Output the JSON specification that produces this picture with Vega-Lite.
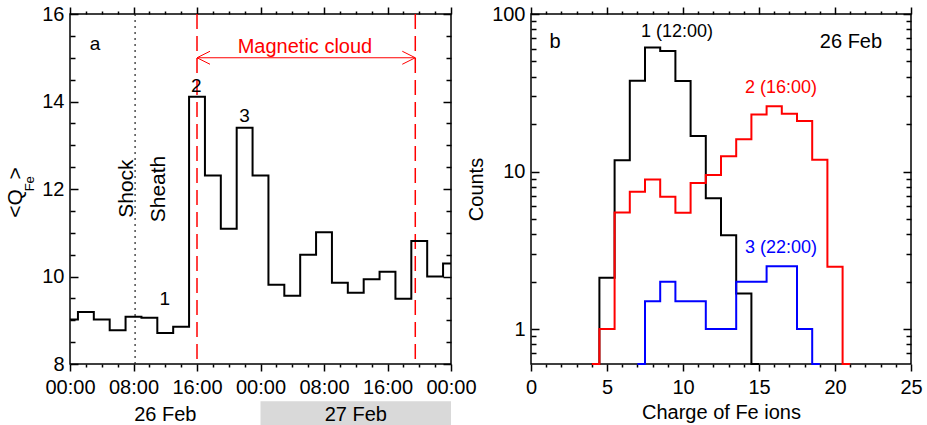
{
  "$schema": "https://vega.github.io/schema/vega-lite/v6.json",
  "padding": {"left": 4, "top": 3, "right": 5, "bottom": 0},
  "config": {
    "font": "Liberation Sans",
    "view": {"stroke": "black", "strokeWidth": 1.5},
    "axis": {"domain": false, "grid": false, "labelFont": "Liberation Sans", "labelFontSize": 20, "labelColor": "black", "tickColor": "black", "tickWidth": 1.5, "labelFlush": false, "labelOverlap": false, "titleFont": "Liberation Sans", "titleFontSize": 20, "titleFontWeight": "normal", "titleColor": "black"},
    "text": {"font": "Liberation Sans", "fontSize": 20}
  },
  "datasets": {
    "qfe": [
      {"hour": 0, "q": 9.02}, {"hour": 2, "q": 9.19}, {"hour": 4, "q": 9.02}, {"hour": 6, "q": 8.77},
      {"hour": 8, "q": 9.08}, {"hour": 10, "q": 9.06}, {"hour": 12, "q": 8.71}, {"hour": 14, "q": 8.85},
      {"hour": 16, "q": 14.11}, {"hour": 18, "q": 12.31}, {"hour": 20, "q": 11.09}, {"hour": 22, "q": 13.40},
      {"hour": 24, "q": 12.31}, {"hour": 26, "q": 9.81}, {"hour": 28, "q": 9.56}, {"hour": 30, "q": 10.50},
      {"hour": 32, "q": 11.01}, {"hour": 34, "q": 9.86}, {"hour": 36, "q": 9.63}, {"hour": 38, "q": 9.94},
      {"hour": 40, "q": 10.11}, {"hour": 42, "q": 9.49}, {"hour": 44, "q": 10.81}, {"hour": 46, "q": 10.00},
      {"hour": 48, "q": 10.30}
    ],
    "hist": [
      {"series": "1 (12:00)", "charge": 4, "count": 0},
      {"series": "1 (12:00)", "charge": 5, "count": 2.12},
      {"series": "1 (12:00)", "charge": 6, "count": 11.8},
      {"series": "1 (12:00)", "charge": 7, "count": 37.7},
      {"series": "1 (12:00)", "charge": 8, "count": 61.3},
      {"series": "1 (12:00)", "charge": 9, "count": 58.3},
      {"series": "1 (12:00)", "charge": 10, "count": 37.5},
      {"series": "1 (12:00)", "charge": 11, "count": 16.8},
      {"series": "1 (12:00)", "charge": 12, "count": 6.76},
      {"series": "1 (12:00)", "charge": 13, "count": 3.94},
      {"series": "1 (12:00)", "charge": 14, "count": 1.68},
      {"series": "1 (12:00)", "charge": 15, "count": 0},
      {"series": "2 (16:00)", "charge": 4, "count": 0},
      {"series": "2 (16:00)", "charge": 5, "count": 1.0},
      {"series": "2 (16:00)", "charge": 6, "count": 5.5},
      {"series": "2 (16:00)", "charge": 7, "count": 7.45},
      {"series": "2 (16:00)", "charge": 8, "count": 8.89},
      {"series": "2 (16:00)", "charge": 9, "count": 6.92},
      {"series": "2 (16:00)", "charge": 10, "count": 5.47},
      {"series": "2 (16:00)", "charge": 11, "count": 8.47},
      {"series": "2 (16:00)", "charge": 12, "count": 9.52},
      {"series": "2 (16:00)", "charge": 13, "count": 12.5},
      {"series": "2 (16:00)", "charge": 14, "count": 16.0},
      {"series": "2 (16:00)", "charge": 15, "count": 23.0},
      {"series": "2 (16:00)", "charge": 16, "count": 26.0},
      {"series": "2 (16:00)", "charge": 17, "count": 23.3},
      {"series": "2 (16:00)", "charge": 18, "count": 20.9},
      {"series": "2 (16:00)", "charge": 19, "count": 11.9},
      {"series": "2 (16:00)", "charge": 20, "count": 2.49},
      {"series": "2 (16:00)", "charge": 21, "count": 0},
      {"series": "3 (22:00)", "charge": 7, "count": 0},
      {"series": "3 (22:00)", "charge": 8, "count": 1.5},
      {"series": "3 (22:00)", "charge": 9, "count": 2.0},
      {"series": "3 (22:00)", "charge": 10, "count": 1.5},
      {"series": "3 (22:00)", "charge": 11, "count": 1.5},
      {"series": "3 (22:00)", "charge": 12, "count": 1.0},
      {"series": "3 (22:00)", "charge": 13, "count": 1.0},
      {"series": "3 (22:00)", "charge": 14, "count": 2.0},
      {"series": "3 (22:00)", "charge": 15, "count": 2.0},
      {"series": "3 (22:00)", "charge": 16, "count": 2.5},
      {"series": "3 (22:00)", "charge": 17, "count": 2.5},
      {"series": "3 (22:00)", "charge": 18, "count": 1.0},
      {"series": "3 (22:00)", "charge": 19, "count": 0}
    ],
    "serieslabels": [
      {"series": "1 (12:00)", "charge": 9.6, "count": 76.8},
      {"series": "2 (16:00)", "charge": 16.45, "count": 33.8},
      {"series": "3 (22:00)", "charge": 16.45, "count": 3.28}
    ]
  },
  "bounds": "flush",
  "spacing": 80,
  "hconcat": [
    {
      "width": 381,
      "height": 350,
      "layer": [
        {
          "data": {"values": [{"day": "27 Feb", "start": 24, "end": 48}]},
          "mark": {"type": "rect", "color": "#d9d9d9"},
          "encoding": {
            "x": {"field": "start", "type": "quantitative", "axis": null},
            "x2": {"field": "end"},
            "y": {"datum": 7.15, "type": "quantitative", "axis": null},
            "y2": {"datum": 6.55}
          }
        },
        {
          "data": {"values": [{"day": "26 Feb", "mid": 12}, {"day": "27 Feb", "mid": 36}]},
          "mark": {"type": "text", "baseline": "middle", "align": "center", "fontSize": 20, "color": "black"},
          "encoding": {
            "x": {"field": "mid", "type": "quantitative", "axis": null},
            "y": {"datum": 6.83, "type": "quantitative", "axis": null},
            "text": {"field": "day"}
          }
        },
        {
          "data": {"values": [{"event": "Shock", "hour": 8.2}]},
          "mark": {"type": "rule", "color": "#222222", "strokeWidth": 1.2, "strokeDash": [2, 4]},
          "encoding": {"x": {"field": "hour", "type": "quantitative", "axis": null}}
        },
        {
          "data": {"values": [{"event": "MC start", "hour": 16}, {"event": "MC end", "hour": 43.5}]},
          "mark": {"type": "rule", "color": "#ff0000", "strokeWidth": 1.5, "strokeDash": [15, 7]},
          "encoding": {"x": {"field": "hour", "type": "quantitative", "axis": null}}
        },
        {
          "data": {"values": [{"start": 16, "end": 43.5, "level": 15.0}]},
          "mark": {"type": "rule", "color": "#ff0000", "strokeWidth": 1},
          "encoding": {
            "x": {"field": "start", "type": "quantitative", "axis": null},
            "x2": {"field": "end"},
            "y": {"field": "level", "type": "quantitative", "axis": null}
          }
        },
        {
          "data": {"values": [{"dir": "left", "hour": 16, "level": 15.0}, {"dir": "right", "hour": 43.5, "level": 15.0}]},
          "mark": {"type": "point", "filled": false, "stroke": "#ff0000", "strokeWidth": 1, "size": 676, "opacity": 1},
          "encoding": {
            "x": {"field": "hour", "type": "quantitative", "axis": null},
            "y": {"field": "level", "type": "quantitative", "axis": null},
            "shape": {"field": "dir", "type": "nominal", "scale": {"domain": ["left", "right"], "range": ["M1,-0.5L0,0L1,0.5", "M-1,-0.5L0,0L-1,0.5"]}, "legend": null}
          }
        },
        {
          "data": {"name": "qfe"},
          "mark": {"type": "line", "interpolate": "step", "color": "black", "strokeWidth": 2},
          "encoding": {
            "x": {
              "field": "hour", "type": "quantitative",
              "scale": {"domain": [0, 48], "nice": false, "zero": false},
              "axis": {
                "orient": "bottom", "title": null,
                "values": [0, 2, 4, 6, 8, 10, 12, 14, 16, 18, 20, 22, 24, 26, 28, 30, 32, 34, 36, 38, 40, 42, 44, 46, 48],
                "labelExpr": "datum.value % 8 === 0 ? ((datum.value % 24) < 10 ? '0' : '') + (datum.value % 24) + ':00' : ''",
                "tickSize": {"condition": {"test": "datum.value % 8 === 0", "value": 7}, "value": 3},
                "labelPadding": 6
              }
            },
            "y": {
              "field": "q", "type": "quantitative",
              "scale": {"domain": [8, 16], "nice": false, "zero": false},
              "axis": {
                "orient": "left", "title": null,
                "values": [8, 8.5, 9, 9.5, 10, 10.5, 11, 11.5, 12, 12.5, 13, 13.5, 14, 14.5, 15, 15.5, 16],
                "labelExpr": "datum.value % 2 === 0 ? '' + datum.value : ''",
                "tickSize": {"condition": {"test": "datum.value % 2 === 0", "value": -8}, "value": -5},
                "labelPadding": 14
              }
            }
          }
        },
        {
          "data": {"values": [
            {"label": "a", "hour": 3.15, "q": 15.31},
            {"label": "1", "hour": 11.93, "q": 9.48},
            {"label": "2", "hour": 15.9, "q": 14.36},
            {"label": "3", "hour": 22.0, "q": 13.66}
          ]},
          "mark": {"type": "text", "baseline": "middle", "align": "center", "fontSize": 19, "color": "black"},
          "encoding": {
            "x": {
              "field": "hour", "type": "quantitative",
              "axis": {
                "orient": "top", "title": null, "labels": false,
                "values": [0, 2, 4, 6, 8, 10, 12, 14, 16, 18, 20, 22, 24, 26, 28, 30, 32, 34, 36, 38, 40, 42, 44, 46, 48],
                "tickSize": {"condition": {"test": "datum.value % 8 === 0", "value": 7}, "value": 3}
              }
            },
            "y": {
              "field": "q", "type": "quantitative",
              "axis": {
                "orient": "right", "title": null, "labels": false,
                "values": [8, 8.5, 9, 9.5, 10, 10.5, 11, 11.5, 12, 12.5, 13, 13.5, 14, 14.5, 15, 15.5, 16],
                "tickSize": {"condition": {"test": "datum.value % 2 === 0", "value": -8}, "value": -5}
              }
            },
            "text": {"field": "label"}
          }
        },
        {
          "data": {"values": [{"label": "Magnetic cloud", "hour": 29.6, "q": 15.12}]},
          "mark": {"type": "text", "baseline": "alphabetic", "align": "center", "fontSize": 20, "color": "#ff0000"},
          "encoding": {
            "x": {"field": "hour", "type": "quantitative", "axis": null},
            "y": {"field": "q", "type": "quantitative", "axis": null},
            "text": {"field": "label"}
          }
        },
        {
          "data": {"values": [
            {"label": "Shock", "hour": 7.14, "q": 12.01},
            {"label": "Sheath", "hour": 11.15, "q": 12.0}
          ]},
          "mark": {"type": "text", "baseline": "middle", "align": "center", "fontSize": 21, "angle": 270, "color": "black"},
          "encoding": {
            "x": {"field": "hour", "type": "quantitative", "axis": null},
            "y": {"field": "q", "type": "quantitative", "axis": null},
            "text": {"field": "label"}
          }
        },
        {
          "data": {"values": [
            {"part": "<Q", "hour": -6.8, "q": 11.67},
            {"part": ">", "hour": -6.8, "q": 12.36}
          ]},
          "mark": {"type": "text", "baseline": "middle", "align": "center", "fontSize": 21, "angle": 270, "color": "black"},
          "encoding": {
            "x": {"field": "hour", "type": "quantitative", "axis": null},
            "y": {"field": "q", "type": "quantitative", "axis": null},
            "text": {"field": "part"}
          }
        },
        {
          "data": {"values": [{"part": "Fe", "hour": -5.04, "q": 12.12}]},
          "mark": {"type": "text", "baseline": "middle", "align": "center", "fontSize": 13, "angle": 270, "color": "black"},
          "encoding": {
            "x": {"field": "hour", "type": "quantitative", "axis": null},
            "y": {"field": "q", "type": "quantitative", "axis": null},
            "text": {"field": "part"}
          }
        }
      ]
    },
    {
      "width": 380,
      "height": 350,
      "layer": [
        {
          "data": {"name": "hist"},
          "mark": {"type": "line", "interpolate": "step", "strokeWidth": 2},
          "encoding": {
            "x": {
              "field": "charge", "type": "quantitative",
              "scale": {"domain": [0, 25], "nice": false, "zero": false},
              "axis": {
                "orient": "bottom", "title": "Charge of Fe ions", "titlePadding": 5,
                "values": [0, 1, 2, 3, 4, 5, 6, 7, 8, 9, 10, 11, 12, 13, 14, 15, 16, 17, 18, 19, 20, 21, 22, 23, 24, 25],
                "labelExpr": "datum.value % 5 === 0 ? datum.label : ''",
                "tickSize": {"condition": {"test": "datum.value % 5 === 0", "value": 7}, "value": 3},
                "labelPadding": 6
              }
            },
            "y": {
              "field": "count", "type": "quantitative",
              "scale": {"type": "log", "domain": [0.6, 100], "nice": false, "clamp": true},
              "axis": {
                "orient": "left", "title": "Counts", "titlePadding": 5,
                "values": [0.7, 0.8, 0.9, 1, 2, 3, 4, 5, 6, 7, 8, 9, 10, 20, 30, 40, 50, 60, 70, 80, 90, 100],
                "labelExpr": "datum.value == 1 ? '1' : datum.value == 10 ? '10' : datum.value == 100 ? '100' : ''",
                "tickSize": {"condition": {"test": "datum.value == 1 || datum.value == 10 || datum.value == 100", "value": -8}, "value": -5},
                "labelPadding": 14
              }
            },
            "color": {"field": "series", "type": "nominal", "scale": {"domain": ["1 (12:00)", "2 (16:00)", "3 (22:00)"], "range": ["black", "#ff0000", "#0000ff"]}, "legend": null}
          }
        },
        {
          "data": {"name": "serieslabels"},
          "mark": {"type": "text", "baseline": "middle", "align": "center", "fontSize": 18},
          "encoding": {
            "x": {"field": "charge", "type": "quantitative", "axis": null},
            "y": {"field": "count", "type": "quantitative", "axis": null},
            "text": {"field": "series"},
            "color": {"field": "series", "type": "nominal", "legend": null}
          }
        },
        {
          "data": {"values": [
            {"label": "b", "charge": 1.58, "count": 66.3},
            {"label": "26 Feb", "charge": 21.05, "count": 66.3}
          ]},
          "mark": {"type": "text", "baseline": "middle", "align": "center", "fontSize": 20, "color": "black"},
          "encoding": {
            "x": {
              "field": "charge", "type": "quantitative",
              "axis": {
                "orient": "top", "title": null, "labels": false,
                "values": [0, 1, 2, 3, 4, 5, 6, 7, 8, 9, 10, 11, 12, 13, 14, 15, 16, 17, 18, 19, 20, 21, 22, 23, 24, 25],
                "tickSize": {"condition": {"test": "datum.value % 5 === 0", "value": 7}, "value": 3}
              }
            },
            "y": {
              "field": "count", "type": "quantitative",
              "axis": {
                "orient": "right", "title": null, "labels": false,
                "values": [0.7, 0.8, 0.9, 1, 2, 3, 4, 5, 6, 7, 8, 9, 10, 20, 30, 40, 50, 60, 70, 80, 90, 100],
                "tickSize": {"condition": {"test": "datum.value == 1 || datum.value == 10 || datum.value == 100", "value": -8}, "value": -5}
              }
            },
            "text": {"field": "label"}
          }
        }
      ]
    }
  ]
}
